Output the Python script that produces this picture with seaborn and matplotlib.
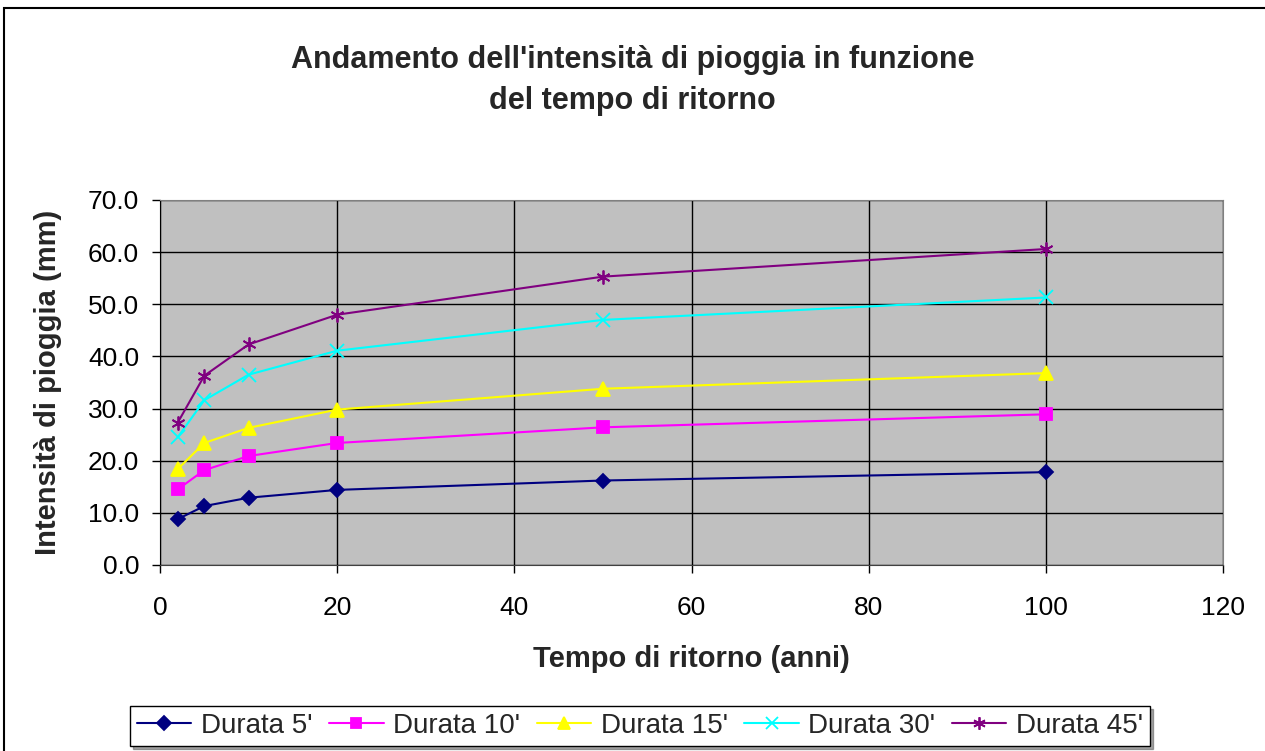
import pandas as pd
import numpy as np
import seaborn as sns
import matplotlib.pyplot as plt
from matplotlib.patches import Rectangle
from matplotlib.ticker import FormatStrFormatter

# tempo di ritorno (anni)
tempo = [2, 5, 10, 20, 50, 100]
durate = ["Durata 5'", "Durata 10'", "Durata 15'", "Durata 30'", "Durata 45'"]
d5 = [8.8, 11.3, 12.9, 14.4, 16.2, 17.8]
d10 = [14.5, 18.2, 20.9, 23.4, 26.4, 28.9]
d15 = [18.4, 23.4, 26.3, 29.8, 33.8, 36.8]
d30 = [24.5, 31.6, 36.5, 41.1, 47.0, 51.3]
d45 = [27.3, 36.3, 42.3, 48.0, 55.3, 60.6]

df = pd.DataFrame({
    "Tempo": tempo * 5,
    "Intensita": d5 + d10 + d15 + d30 + d45,
    "Durata": np.repeat(durate, len(tempo)),
})

sns.set_style("white")
plt.rcParams["font.family"] = ["Liberation Sans", "DejaVu Sans"]

colori = ["#000080", "#FF00FF", "#FFFF00", "#00FFFF", "#800080"]
marker = ["D", "s", "^", "x", (6, 2, 0)]
msize = [7.5, 8, 9.5, 9.5, 10]

fig = plt.figure(figsize=(12.65, 7.51), dpi=100)
ax = fig.add_axes([0.1265, 0.2477, 0.8403, 0.486])
ax.set_facecolor("#C0C0C0")

for d, c, m, ms in zip(durate, colori, marker, msize):
    sns.lineplot(data=df[df["Durata"] == d], x="Tempo", y="Intensita", color=c,
                 marker=m, markersize=ms, markeredgecolor=c, markeredgewidth=1.3,
                 linewidth=1.5, label=d, ax=ax)

ax.set_xlim(0, 120)
ax.set_ylim(0, 70)
ax.set_xticks(range(0, 121, 20))
ax.set_yticks(range(0, 71, 10))
ax.yaxis.set_major_formatter(FormatStrFormatter("%.1f"))
ax.grid(True, color="black", linewidth=1)
ax.set_axisbelow(True)
ax.tick_params(axis="both", direction="out", length=6, width=1, labelsize=19,
               left=True, bottom=True, colors="black")
ax.tick_params(axis="x", pad=16)
ax.tick_params(axis="y", pad=9)
for s in ax.spines.values():
    s.set_color("#808080")
ax.spines["left"].set_color("black")
ax.spines["bottom"].set_color("#404040")

ax.set_xlabel("Tempo di ritorno (anni)", fontsize=21, fontweight="bold", labelpad=18)
ax.set_ylabel("Intensità di pioggia (mm)", fontsize=21, fontweight="bold", labelpad=19)
fig.text(0.5, 0.893, "Andamento dell'intensità di pioggia in funzione\ndel tempo di ritorno",
         ha="center", va="center", fontsize=22, fontweight="bold", linespacing=1.45)

h, lab = ax.get_legend_handles_labels()
ax.get_legend().remove()
leg = fig.legend(h, lab, loc="center", bbox_to_anchor=(0.506, 0.033), ncol=5,
                 fontsize=20, frameon=True, fancybox=False, shadow=True,
                 handlelength=1.95, columnspacing=0.6, handletextpad=0.35,
                 borderpad=0.25, markerscale=0.9)
leg.get_frame().set_edgecolor("black")
leg.get_frame().set_linewidth(1)

fig.patches.append(Rectangle((0.003, -0.01), 1.1, 0.9995, transform=fig.transFigure,
                             fill=False, edgecolor="black", linewidth=1.5))

fig.savefig("out.png", dpi=100)
